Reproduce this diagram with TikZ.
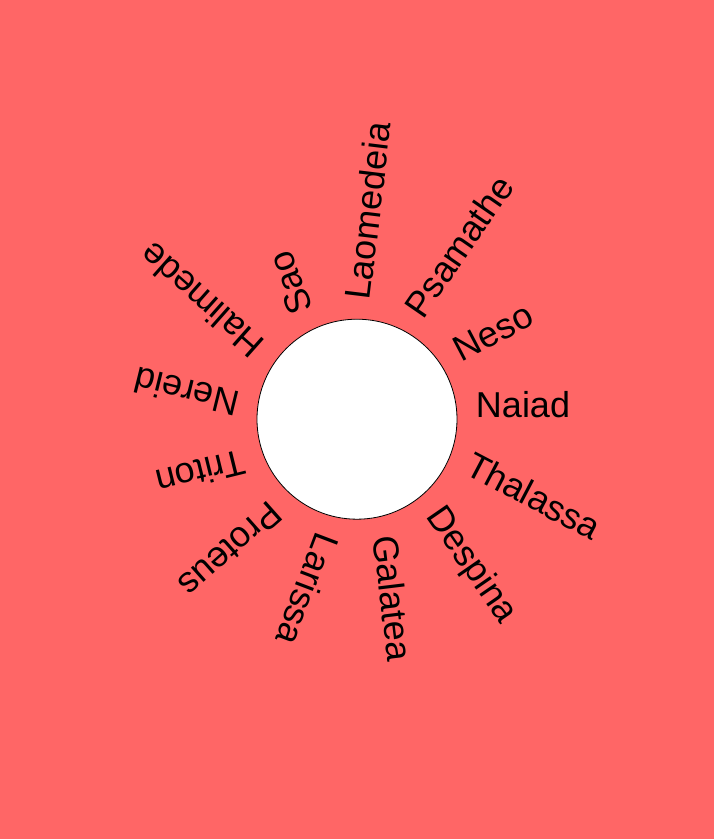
\documentclass[tikz,border=0pt]{standalone}
\usepackage{fontspec}
\setmainfont{Liberation Sans}
\definecolor{bg}{HTML}{FF6666}
\begin{document}
\begin{tikzpicture}[x=1pt,y=1pt,
  moon/.style={font=\fontsize{36}{36}\selectfont, anchor=base west, inner sep=0pt, outer sep=0pt, transform shape},
  disc/.style={circle, draw=black, fill=white, minimum size=200pt, inner sep=0pt, line width=0.8pt}]
\fill[bg] (-357,-419.8) rectangle (357,419.2);
\useasboundingbox (-357,-419.8) rectangle (357,419.2);
\node[disc] (c) at (0,0) {};
\foreach \name [count=\i from 0] in {Naiad,Thalassa,Despina,Galatea,Larissa,Proteus,Triton,Nereid,Halimede,Sao,Laomedeia,Psamathe,Neso} {
  \begin{scope}[rotate={-\i*360/13}]
    \node[moon] (m\i) at (119,1.5) {\name};
  \end{scope}
}
\end{tikzpicture}
\end{document}
